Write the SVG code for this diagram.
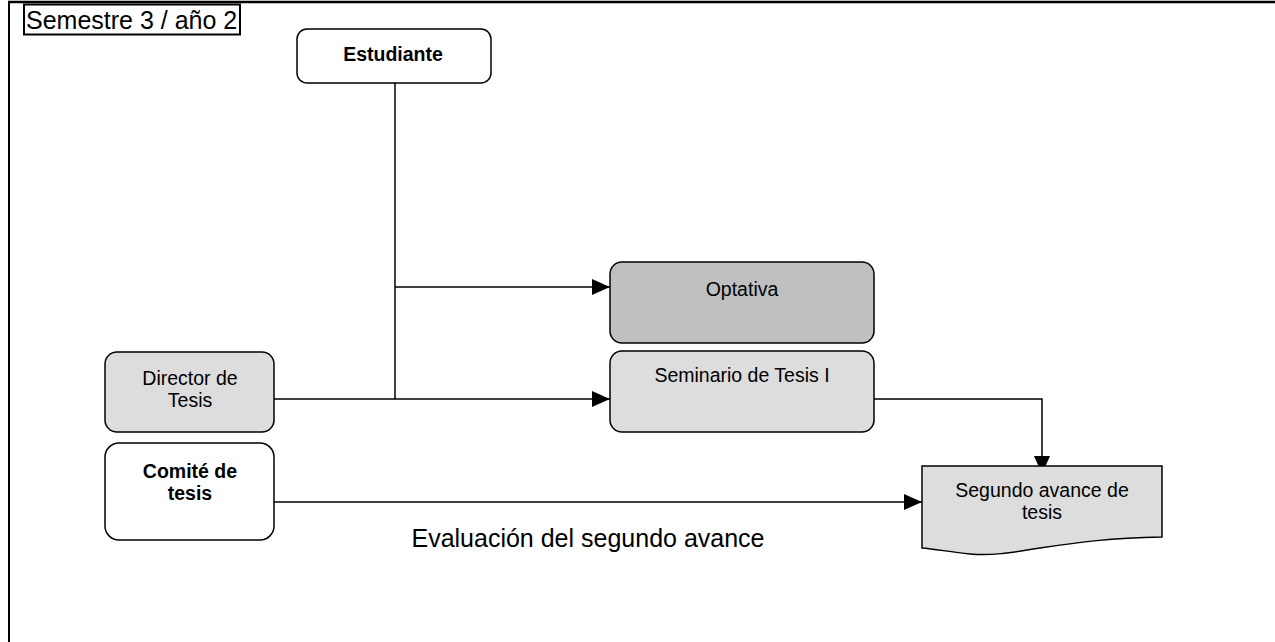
<svg xmlns="http://www.w3.org/2000/svg" width="1275" height="642" viewBox="0 0 1275 642">
<style>
.box{stroke:#000;stroke-width:1.5}
.t{font-family:"Liberation Sans",Arial,sans-serif;font-size:19.5px;fill:#000;text-anchor:middle}
.b{font-weight:bold}
.c{fill:none;stroke:#000;stroke-width:1.5}
.big{font-family:"Liberation Sans",Arial,sans-serif;font-size:25px;fill:#000}
</style>
<defs>
<marker id="ah" markerWidth="18" markerHeight="16" refX="18" refY="8" orient="auto" markerUnits="userSpaceOnUse">
<path d="M0,0 L18,8 L0,16 Z" fill="#000"/>
</marker>
</defs>
<rect width="1275" height="642" fill="#fff"/>
<g id="frame">
<line x1="8" y1="2" x2="1275" y2="2" stroke="#000" stroke-width="2.5"/>
<line x1="9" y1="2" x2="9" y2="642" stroke="#000" stroke-width="2"/>
<rect x="24" y="4.5" width="216" height="30" fill="#fff" stroke="#000" stroke-width="2"/>
<text class="big" x="26" y="29">Semestre 3 / año 2</text>
</g>
<g id="connectors">
<line class="c" x1="395" y1="83" x2="395" y2="399"/>
<line class="c" x1="395" y1="287" x2="610" y2="287" marker-end="url(#ah)"/>
<line class="c" x1="274" y1="399" x2="610" y2="399" marker-end="url(#ah)"/>
<polyline class="c" points="873,399 1042,399 1042,474" marker-end="url(#ah)"/>
<line class="c" x1="274" y1="502" x2="922" y2="502" marker-end="url(#ah)"/>
</g>
<g id="estudiante">
<rect class="box" x="297" y="29" width="194" height="54" rx="10" fill="#fff"/>
<text class="t b" x="393" y="61">Estudiante</text>
</g>
<g id="optativa">
<rect class="box" x="610" y="262" width="264" height="81" rx="12" fill="#c0c0c0"/>
<text class="t" x="742" y="296">Optativa</text>
</g>
<g id="seminario">
<rect class="box" x="610" y="351" width="264" height="81" rx="12" fill="#dddddd"/>
<text class="t" x="742" y="382">Seminario de Tesis I</text>
</g>
<g id="director">
<rect class="box" x="105" y="352" width="169" height="80" rx="12" fill="#dddddd"/>
<text class="t" x="190" y="385">Director de</text>
<text class="t" x="190" y="407">Tesis</text>
</g>
<g id="comite">
<rect class="box" x="105" y="443" width="169" height="97" rx="14" fill="#fff"/>
<text class="t b" x="190" y="478">Comité de</text>
<text class="t b" x="190" y="500">tesis</text>
</g>
<g id="segundo">
<path class="box" d="M922,466 L1162,466 L1162,537 C1110,538 1080,542 1040,548 C1010,553 990,556 970,554 C950,552 935,549 922,548 Z" fill="#dddddd"/>
<text class="t" x="1042" y="497">Segundo avance de</text>
<text class="t" x="1042" y="519">tesis</text>
</g>
<g id="label">
<text class="big" x="588" y="547" text-anchor="middle">Evaluación del segundo avance</text>
</g>
</svg>
